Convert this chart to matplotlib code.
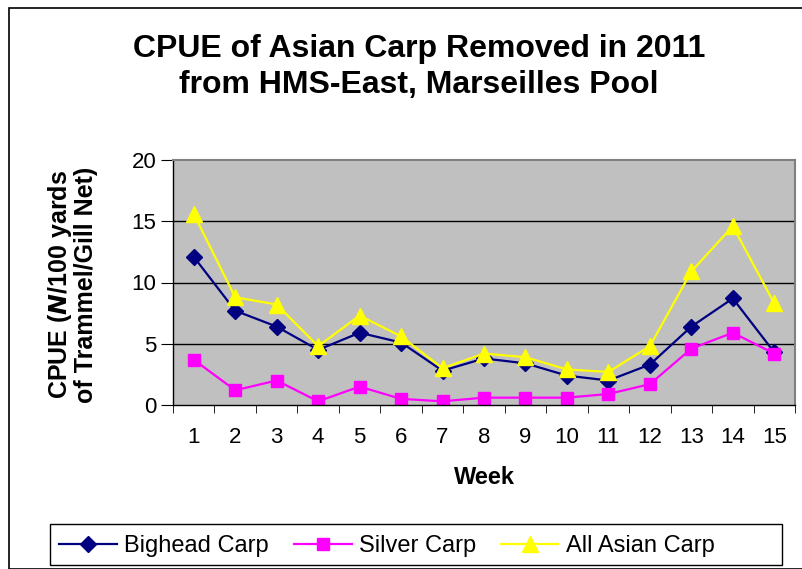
import matplotlib.pyplot as plt
from matplotlib.patches import Rectangle

weeks = list(range(1, 16))
bighead = [12.1, 7.7, 6.4, 4.5, 5.9, 5.1, 2.8, 3.8, 3.4, 2.4, 2.0, 3.3, 6.4, 8.7, 4.3]
silver = [3.7, 1.2, 2.0, 0.3, 1.5, 0.5, 0.3, 0.6, 0.6, 0.6, 0.9, 1.7, 4.6, 5.9, 4.2]
all_carp = [15.6, 8.8, 8.2, 4.8, 7.3, 5.6, 3.0, 4.2, 3.9, 2.9, 2.7, 4.8, 10.9, 14.6, 8.3]

plt.rcParams['font.family'] = ['Liberation Sans', 'DejaVu Sans']

W, H = 803, 569
fig = plt.figure(figsize=(W / 100, H / 100), dpi=100)

# рамка вокруг всей диаграммы
fig.patches.append(Rectangle((9 / W, 0), 1, 1 - 8 / H, transform=fig.transFigure,
                             fill=False, edgecolor='black', linewidth=1.2))
# рамка легенды
fig.patches.append(Rectangle((50 / W, (H - 565) / H), 732 / W, 41 / H,
                             transform=fig.transFigure, fill=False,
                             edgecolor='black', linewidth=1))

ax = fig.add_axes([173 / W, (H - 405) / H, 622 / W, 245 / H])
ax.set_facecolor('#C0C0C0')

ax.plot(weeks, bighead, color='#000080', marker='D', markersize=8, linewidth=1.6,
        label='Bighead Carp')
ax.plot(weeks, silver, color='#FF00FF', marker='s', markersize=9, linewidth=1.6,
        label='Silver Carp')
ax.plot(weeks, all_carp, color='#FFFF00', marker='^', markersize=11, linewidth=1.6,
        label='All Asian Carp')

ax.set_xlim(0.5, 15.5)
ax.set_ylim(0, 20)
ax.set_yticks([0, 5, 10, 15, 20])
for v in [5, 10, 15]:
    ax.axhline(v, color='black', linewidth=1, zorder=0.5)

ax.set_xticks(weeks)
ax.set_xticks([w + 0.5 for w in range(0, 16)], minor=True)
ax.tick_params(axis='x', which='major', length=0, pad=16, labelsize=16)
ax.tick_params(axis='x', which='minor', length=6, direction='out', color='black')
ax.tick_params(axis='y', length=9, direction='out', labelsize=16, pad=3)

for s in ['top', 'right']:
    ax.spines[s].set_color('#808080')
    ax.spines[s].set_linewidth(1.5)
for s in ['left', 'bottom']:
    ax.spines[s].set_color('black')
    ax.spines[s].set_linewidth(1)

ax.set_xlabel('Week', fontsize=17, fontweight='bold')
ax.xaxis.set_label_coords(0.5, -(466 - 405) / 245)

fig.text(72 / W, 1 - 285 / H, 'CPUE ($\\mathbfit{N}$/100 yards\nof Trammel/Gill Net)',
         rotation=90, ha='center', va='center', fontsize=18, fontweight='bold',
         linespacing=1.05)

fig.text(419 / W, 1 - 67 / H, 'CPUE of Asian Carp Removed in 2011\nfrom HMS-East, Marseilles Pool',
         ha='center', va='center', fontsize=23, fontweight='bold', linespacing=1.25)

leg = fig.legend(loc='center left', bbox_to_anchor=(50 / W, (H - 546) / H),
                 ncol=3, fontsize=17, frameon=False,
                 borderaxespad=0, handlelength=2.45, handletextpad=0.3,
                 borderpad=0.4, columnspacing=1.05)

fig.savefig('out.png', dpi=100)
